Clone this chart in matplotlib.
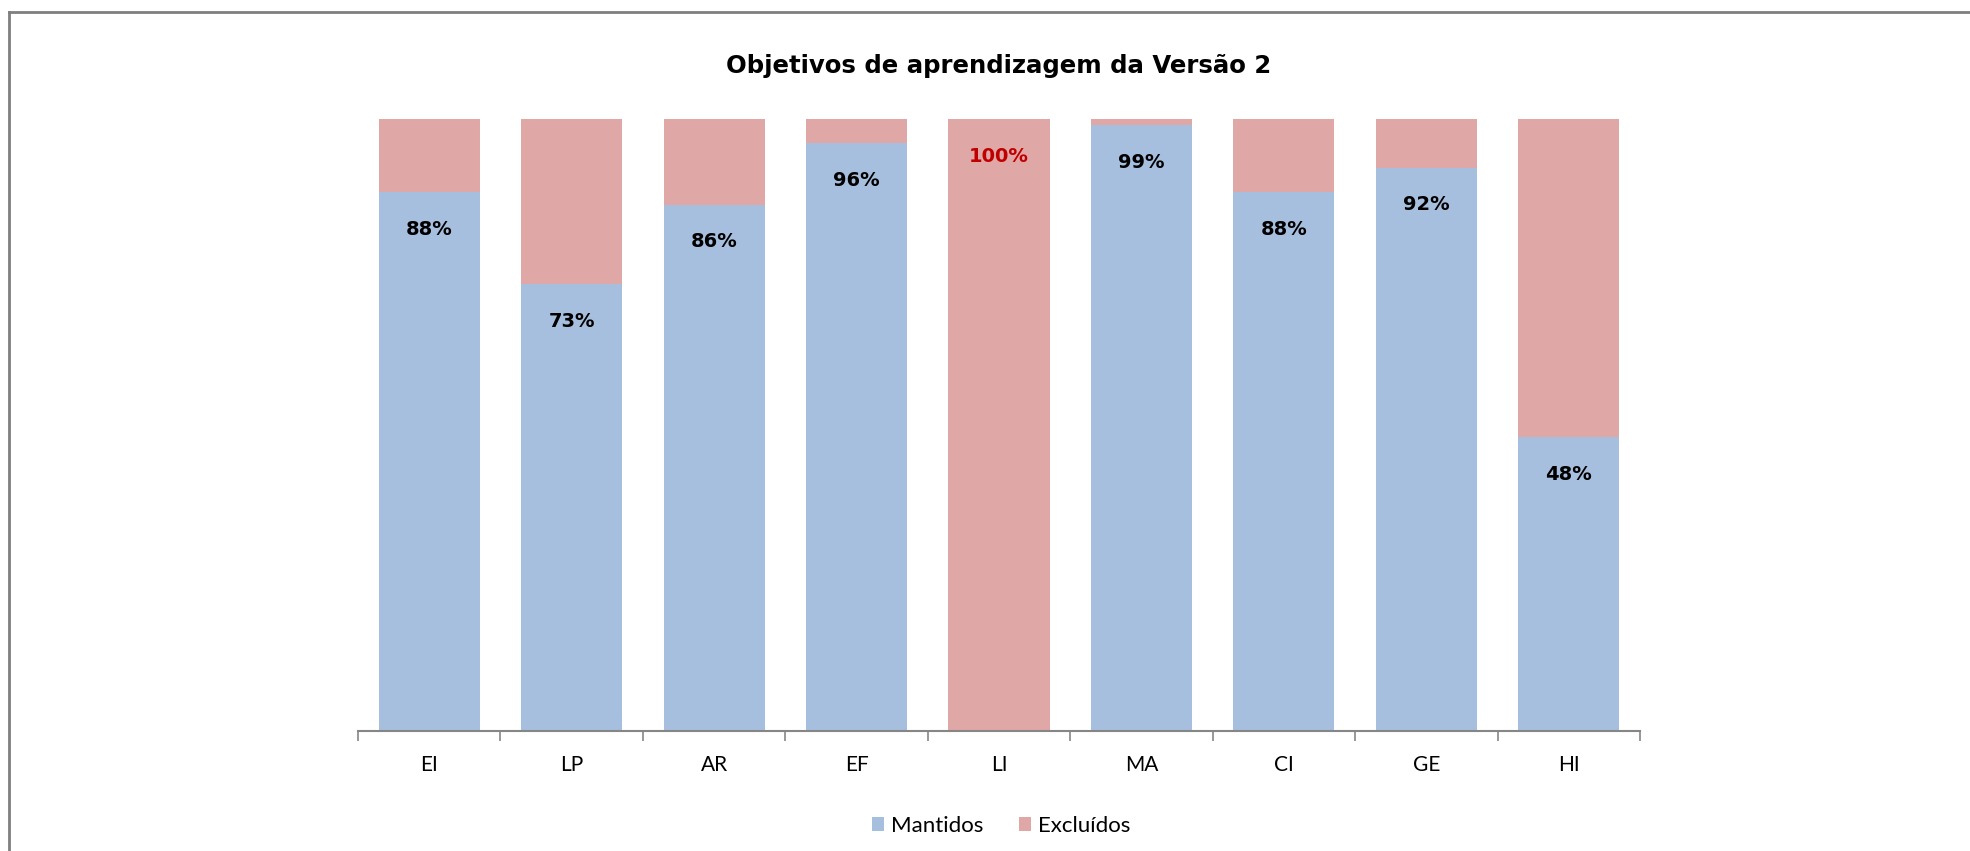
import matplotlib
matplotlib.use("Agg")
import matplotlib.pyplot as plt
from matplotlib.lines import Line2D
import numpy as np

# data
categories = ["EI", "LP", "AR", "EF", "LI", "MA", "CI", "GE", "HI"]
mantidos = [88, 73, 86, 96, 0, 99, 88, 92, 48]
excluidos = [100 - v for v in mantidos]
labels = ["88%", "73%", "86%", "96%", "100%", "99%", "88%", "92%", "48%"]

BLUE = "#A7BFDE"
PINK = "#DFA7A6"

plt.rcParams["font.family"] = ["Lato", "DejaVu Sans"]

fig = plt.figure(figsize=(19.7, 8.51), dpi=100)
ax = fig.add_axes([358 / 1970, 120 / 851, 1282 / 1970, 612 / 851])

x = np.arange(len(categories))
ax.bar(x, mantidos, width=0.71, color=BLUE, label="Mantidos")
ax.bar(x, excluidos, width=0.71, bottom=mantidos, color=PINK, label="Excluídos")

ax.set_xlim(-0.5, len(categories) - 0.5)
ax.set_ylim(0, 100)

# data labels just below the top of each stack segment
for i, (m, lab) in enumerate(zip(mantidos, labels)):
    top = m if m > 0 else 100
    col = "black" if m > 0 else "#C00000"
    ax.annotate(lab, (x[i], top), xytext=(0, -37), textcoords="offset pixels",
                ha="center", va="center", fontsize=14, fontweight="bold",
                color=col, family="DejaVu Sans")

for s in ["top", "right", "left"]:
    ax.spines[s].set_visible(False)
ax.spines["bottom"].set_color("#868686")
ax.spines["bottom"].set_linewidth(1.5)
ax.set_yticks([])
ax.set_xticks(x)
ax.set_xticklabels(categories, fontsize=15)
ax.set_xticks(np.arange(-0.5, len(categories)), minor=True)
ax.tick_params(axis="x", which="major", length=0, pad=17)
ax.tick_params(axis="x", which="minor", length=7, width=1.2, color="#868686", direction="out")

fig.text(999 / 1970, 1 - 66 / 851, "Objetivos de aprendizagem da Versão 2",
         ha="center", va="center", fontsize=17.6, fontweight="bold", family="DejaVu Sans")

fig.legend(loc="center", bbox_to_anchor=(1001 / 1970, 1 - 826 / 851), ncol=2,
           frameon=False, fontsize=16, handlelength=0.55, handleheight=0.55,
           handletextpad=0.3, columnspacing=1.6)

# outer chart frame (only top and left edges are visible in the crop)
fig.add_artist(Line2D([9 / 1970, 1], [1 - 12 / 851, 1 - 12 / 851],
                      transform=fig.transFigure, color="#7F7F7F", lw=2))
fig.add_artist(Line2D([9 / 1970, 9 / 1970], [0, 1 - 12 / 851],
                      transform=fig.transFigure, color="#7F7F7F", lw=2))

fig.savefig("out.png", dpi=100)
